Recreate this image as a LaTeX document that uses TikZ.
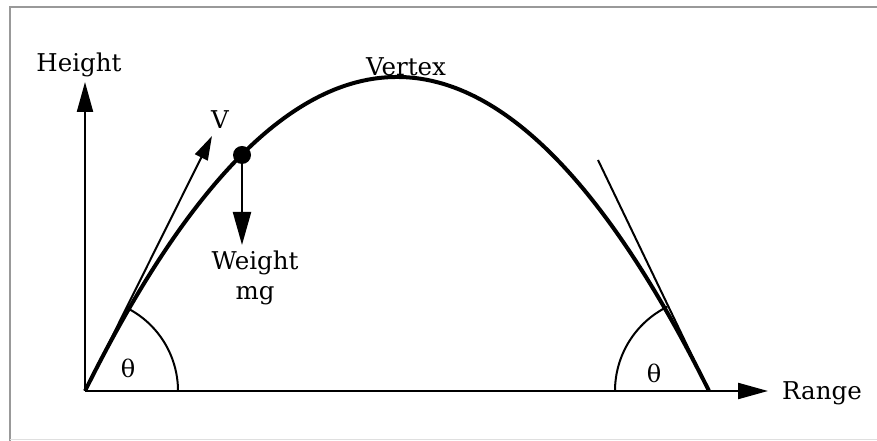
\documentclass[tikz,border=0pt]{standalone}
\usepackage{fontspec}
\newfontfamily\lblfont{DejaVu Serif}
\usetikzlibrary{arrows.meta,calc}
\begin{document}
\begin{tikzpicture}[x=1pt,y=1pt,
  lbl/.style={font=\lblfont\fontsize{24.5}{28}\selectfont, inner sep=0pt},
  ang/.style={font=\lblfont\fontsize{24}{26}\selectfont, inner sep=0pt},
  axis/.style={line width=2.2pt},
  traj/.style={line width=4pt},
  thin/.style={line width=2pt}]
\useasboundingbox (0,0) rectangle (877,441);
% frame
\draw[gray!80, line width=1.2pt] (10,0) -- (10,434) -- (877,434);
\draw[gray!25, line width=1pt] (10,1) -- (877,1);
% key points
\coordinate (O) at (85,50);
\coordinate (E) at (709,50);
\coordinate (Ytip) at (85,359);
\coordinate (Xtip) at (768,50);
\coordinate (Vtip) at (212,305);
\coordinate (Ttop) at (598,281);
\coordinate (Wtip) at (242,196);
% axes
\draw[axis, -{Triangle[length=30pt,width=16pt]}] (O) -- (Ytip);
\draw[axis, -{Triangle[length=30pt,width=16pt]}] (O) -- (Xtip);
% trajectory (parabola)
\draw[traj] (O) .. controls (293,468.7) and (501,468.7) .. (E);
% tangents
\draw[thin, -{Triangle[length=24pt,width=14pt]}] (O) -- (Vtip);
\draw[thin] (E) -- (Ttop);
% angle arcs
\draw[thin] ($(O)+(93,0)$) arc[start angle=0, end angle=63.6, radius=93];
\draw[thin] ($(E)+(-94,0)$) arc[start angle=180, end angle=116.4, radius=94];
% projectile and weight
\node[circle, fill=black, minimum size=18pt, inner sep=0pt] (ball) at (242,286) {};
\draw[axis, -{Triangle[length=33pt,width=18pt]}] (ball.center) -- (Wtip);
% labels
\node[lbl] (height) at (79,376) {Height};
\node[lbl] (range) at (822,48) {Range};
\node[lbl] (vertex) at (406,374) {Vertex};
\node[lbl] (v) at (220,321) {V};
\node[lbl] (weight) at (255,178) {Weight};
\node[lbl] (mg) at (255,145) {mg};
\node[ang] (th1) at (128,73) {θ};
\node[ang] (th2) at (654,68) {θ};
\end{tikzpicture}
\end{document}
